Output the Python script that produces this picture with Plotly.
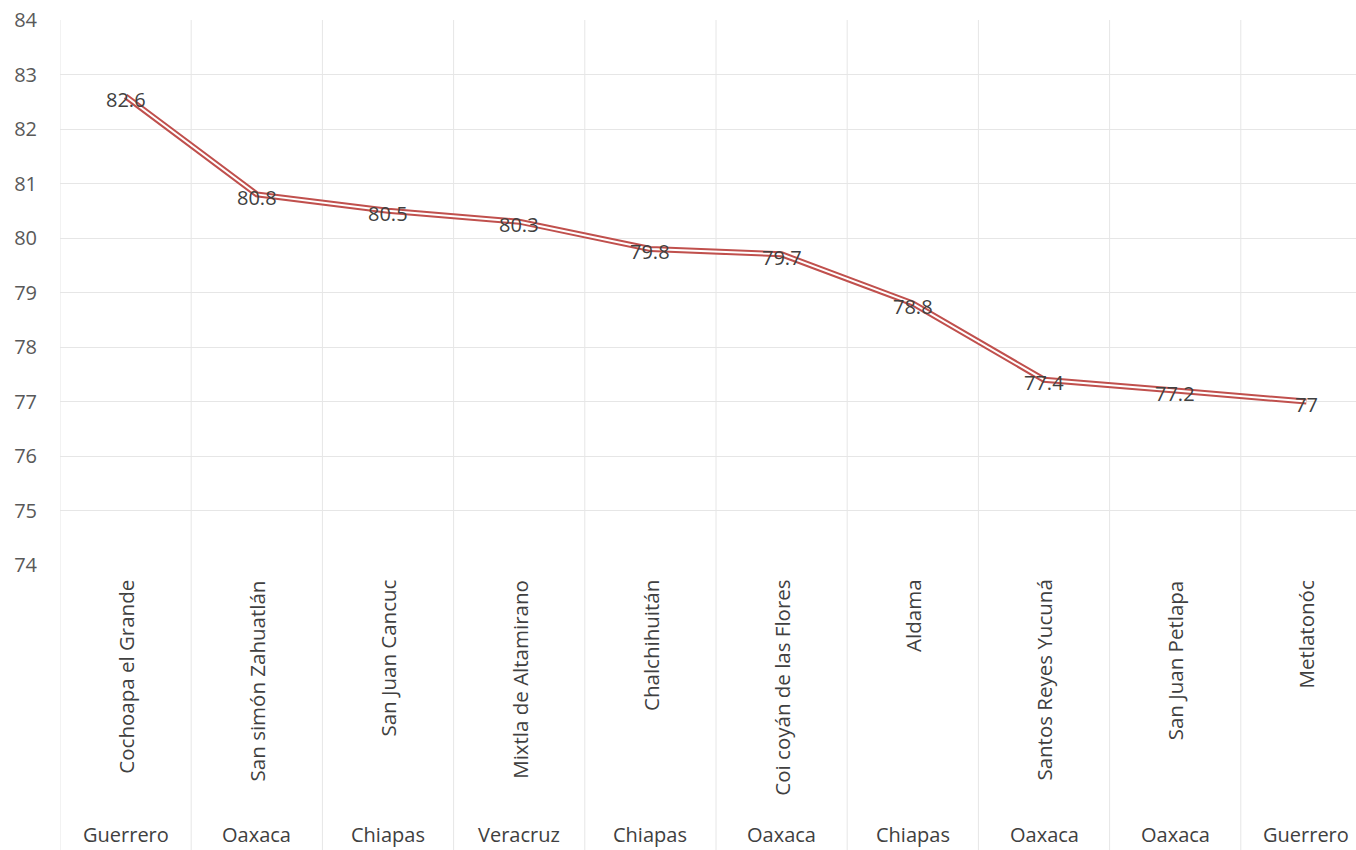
import plotly.graph_objects as go

municipios = ["Cochoapa el Grande", "San simón Zahuatlán", "San Juan Cancuc",
              "Mixtla de Altamirano", "Chalchihuitán", "Coi coyán de las Flores",
              "Aldama", "Santos Reyes Yucuná", "San Juan Petlapa", "Metlatonóc"]
estados = ["Guerrero", "Oaxaca", "Chiapas", "Veracruz", "Chiapas", "Oaxaca",
           "Chiapas", "Oaxaca", "Oaxaca", "Guerrero"]
valores = [82.6, 80.8, 80.5, 80.3, 79.8, 79.7, 78.8, 77.4, 77.2, 77.0]
y_ticks = list(range(74, 85))

FONT = "Open Sans"
TXT = "#404040"
GRID = "#E6E6E6"
FS = 20

xs = list(range(len(municipios)))
fig = go.Figure()
fig.add_trace(go.Scatter(x=xs, y=valores, mode="lines",
                         line=dict(color="#C0504D", width=6), hoverinfo="skip"))
fig.add_trace(go.Scatter(x=xs, y=valores, mode="lines",
                         line=dict(color="white", width=2), hoverinfo="skip"))

for i, v in enumerate(valores):
    fig.add_annotation(x=i, y=v, xref="x", yref="y", text=f"{v:g}", showarrow=False,
                       yshift=-3, font=dict(family=FONT, size=FS, color=TXT))

# vertical separators through the category area
for i in range(len(municipios) + 1):
    fig.add_shape(type="line", xref="x", yref="paper", x0=i - 0.5, x1=i - 0.5,
                  y0=-0.53, y1=1, line=dict(color=GRID, width=1), layer="below")

for i, (m, e) in enumerate(zip(municipios, estados)):
    fig.add_annotation(x=i, y=-0.024, xref="x", yref="paper", text=m, textangle=-90,
                       showarrow=False, yanchor="top", xanchor="center",
                       font=dict(family=FONT, size=20.5, color=TXT))
    fig.add_annotation(x=i, y=-0.5229, xref="x", yref="paper", text=e,
                       showarrow=False, yanchor="bottom", xanchor="center",
                       font=dict(family=FONT, size=FS, color=TXT))

fig.update_layout(
    width=1356, height=850,
    margin=dict(l=60, r=0, t=20, b=285),
    plot_bgcolor="white", paper_bgcolor="white",
    showlegend=False,
    xaxis=dict(range=[-0.5, 9.378], showticklabels=False,
               showgrid=False, zeroline=False, fixedrange=True),
    yaxis=dict(range=[74, 84], tickvals=y_ticks, showgrid=True, gridcolor=GRID,
               gridwidth=1, zeroline=False, ticks="", ticklabelstandoff=22,
               tickfont=dict(family=FONT, size=FS, color="#595959")),
)
fig.write_html("out.html", config={"displayModeBar": False},
               post_script="document.body.style.margin='0';document.body.style.overflow='hidden';")
